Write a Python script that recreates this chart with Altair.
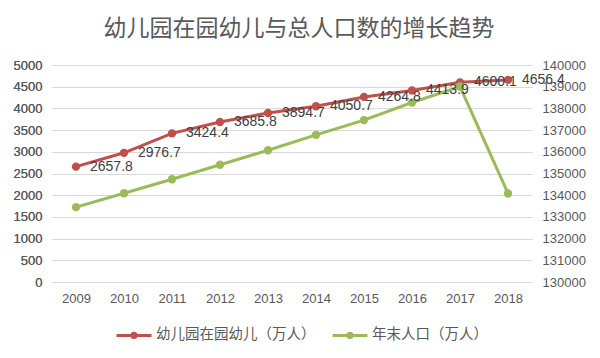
import altair as alt
import pandas as pd

years = ["2009", "2010", "2011", "2012", "2013", "2014", "2015", "2016", "2017", "2018"]
kids = [2657.8, 2976.7, 3424.4, 3685.8, 3894.7, 4050.7, 4264.8, 4413.9, 4600.1, 4656.4]
population = [133450, 134091, 134735, 135404, 136072, 136782, 137462, 138271, 139008, 134080]
series_names = ["幼儿园在园幼儿（万人）", "年末人口（万人）"]
colors = ["#C0504D", "#9BBB59"]
left_ticks = list(range(0, 5001, 500))
right_ticks = list(range(130000, 140001, 1000))
title_text = "幼儿园在园幼儿与总人口数的增长趋势"

df = pd.DataFrame({
    "year": years,
    "kids": kids,
    "pop": population,
    "label": [f"{v:.1f}" for v in kids],
})

NUM_FONT = "Liberation Sans"
CJK_FONT = "Noto Sans CJK SC"
GRAY = "#595959"

base = alt.Chart(df)
x_enc = alt.X(
    "year:O",
    scale=alt.Scale(type="point", padding=0.5),
    axis=alt.Axis(title=None, labelAngle=0, domain=False, ticks=False, grid=False, labelPadding=10),
)
color_scale = alt.Scale(domain=series_names, range=colors)
legend = alt.Legend(
    title=None,
    orient="none",
    legendX=63,
    legendY=251,
    direction="horizontal",
    symbolType="M-1,0H1M-0.12,0A0.12,0.12,0,1,1,0.12,0A0.12,0.12,0,1,1,-0.12,0",
    symbolSize=1225,
    symbolStrokeWidth=3,
    labelFont=CJK_FONT,
    labelFontSize=14.5,
    labelColor=GRAY,
    labelOffset=3,
    columnPadding=10,
)

y_left = alt.Y(
    "kids:Q",
    scale=alt.Scale(domain=[0, 5000], nice=False),
    axis=alt.Axis(title=None, values=left_ticks, format="d", orient="left", grid=True,
                  domain=False, ticks=False, labelPadding=10),
)
y_right = alt.Y(
    "pop:Q",
    scale=alt.Scale(domain=[130000, 140000], nice=False, zero=False),
    axis=alt.Axis(title=None, values=right_ticks, format="d", orient="right", grid=False,
                  domain=False, ticks=False, labelPadding=10),
)

red_line = base.transform_calculate(series=f"'{series_names[0]}'").mark_line(
    strokeWidth=3,
    point=alt.OverlayMarkDef(filled=True, size=70),
).encode(
    x=x_enc, y=y_left,
    color=alt.Color("series:N", scale=color_scale, legend=legend),
)
red_text = base.mark_text(
    align="left", baseline="middle", dx=14, fontSize=14, font=NUM_FONT, color="#404040"
).encode(x=x_enc, y=y_left, text="label:N")

green_line = base.transform_calculate(series=f"'{series_names[1]}'").mark_line(
    strokeWidth=3,
    point=alt.OverlayMarkDef(filled=True, size=70),
).encode(
    x=x_enc, y=y_right,
    color=alt.Color("series:N", scale=color_scale, legend=legend),
)

chart = alt.layer(
    red_line, green_line, red_text
).resolve_scale(y="independent").properties(
    width=480,
    height=217,
    autosize=alt.AutoSizeParams(type="none"),
    padding={"left": 44, "top": 57, "right": 60, "bottom": 66},
    background="white",
    title=alt.TitleParams(
        title_text, font=CJK_FONT, fontSize=23, color=GRAY, fontWeight="normal",
        anchor="middle", offset=18, dx=7,
    ),
).configure_view(stroke=None).configure_axis(
    labelFont=NUM_FONT, labelFontSize=13, labelColor=GRAY,
    gridColor="#D9D9D9", gridWidth=1,
)

chart.save("out.html", embed_options={"renderer": "svg", "actions": False})
